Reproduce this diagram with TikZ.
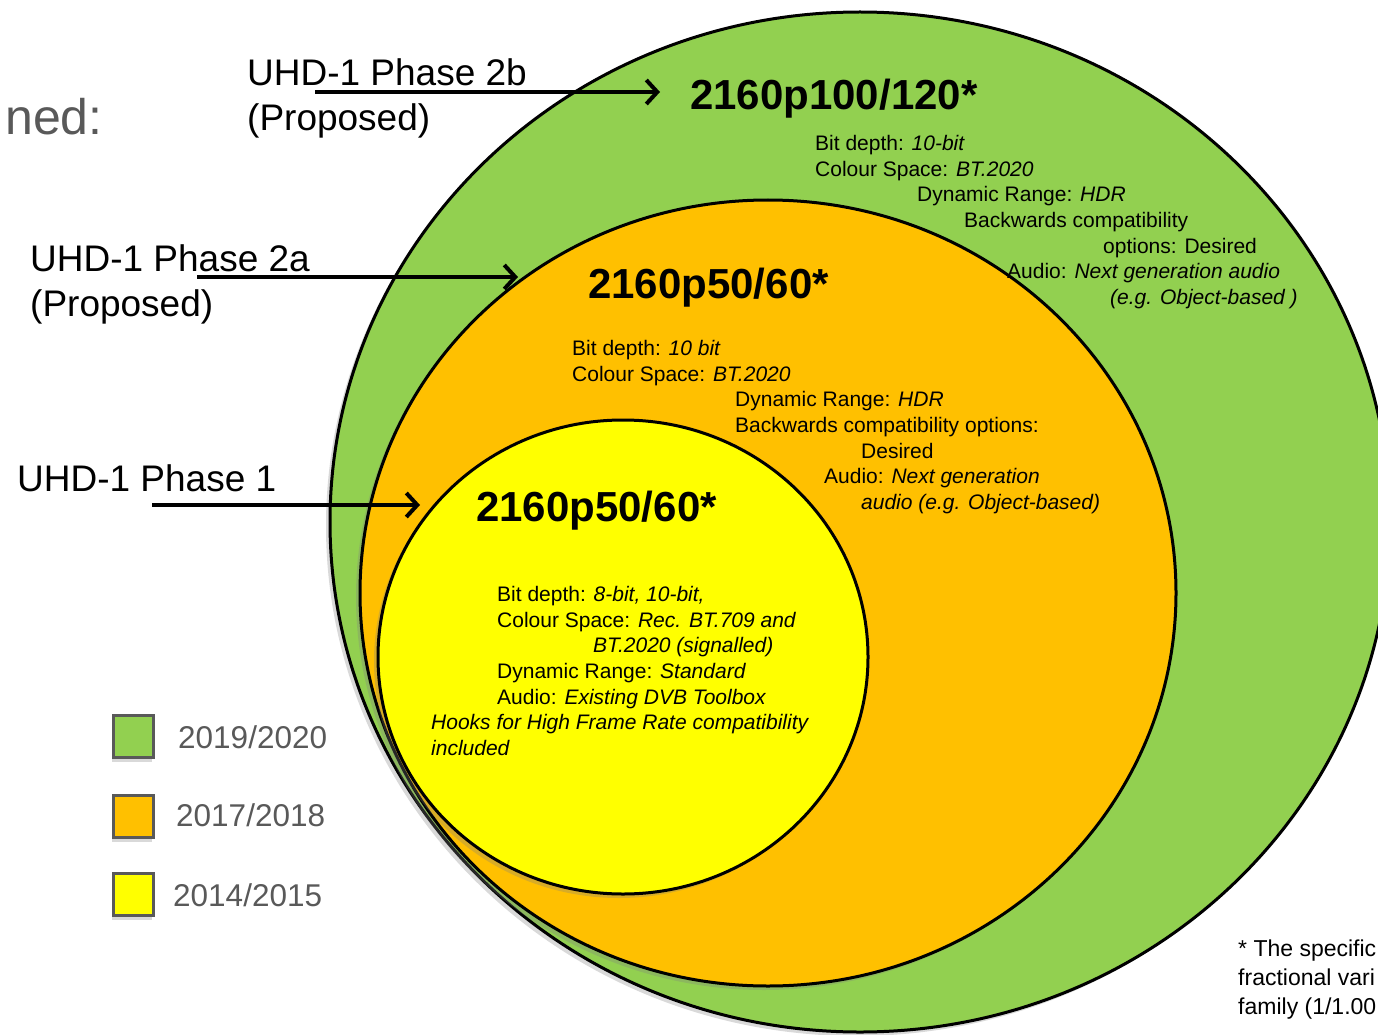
\documentclass[tikz,border=0pt]{standalone}
\usepackage{fontspec}
\setmainfont{Liberation Sans}
\usetikzlibrary{shapes,arrows,arrows.meta,shadows}

\definecolor{phgreen}{RGB}{146,208,80}
\definecolor{phorange}{RGB}{255,192,0}
\definecolor{phyellow}{RGB}{255,255,0}
\definecolor{legendgray}{RGB}{89,89,89}

\begin{document}
\begin{tikzpicture}[x=1pt,y=-1pt]
	\tikzset{align=left,inner sep=0pt}
	
	\tikzset{phase/.style = {shape=ellipse,draw=black,line width=3pt,drop shadow={shadow xshift=-4pt,shadow yshift=-4pt,opacity=0.3}}}
	
	\tikzset{legendbox/.style = {shape=rectangle,draw=legendgray,line width=3pt,minimum width=40pt,minimum height=42pt,drop shadow={shadow xshift=-1pt,shadow yshift=-5pt,opacity=0.3}}}
	
	\tikzset{phaselabel/.style = {anchor=base west,font=\fontsize{37}{45}\selectfont}}
	
	\tikzset{format/.style = {anchor=base west,font=\bfseries\fontsize{42}{50}\selectfont}}
	
	% multi-line blocks: placed by the baseline of their last line
	\tikzset{spec/.style = {anchor=base west,font=\fontsize{21}{25.7}\selectfont}}
	
	\tikzset{yearlabel/.style = {anchor=base west,text=legendgray,font=\fontsize{31.5}{38}\selectfont}}
	
	\useasboundingbox (0,0) rectangle (1378,1035);
	
	% circles
	
	\node[phase,fill=phgreen,minimum width=1060pt,minimum height=1020pt] (ph2b) at (860,522) {};
	
	\node[phase,fill=phorange,minimum width=816pt,minimum height=786pt] (ph2a) at (768,593) {};
	
	\node[phase,fill=phyellow,minimum width=490pt,minimum height=474pt] (ph1) at (623,657) {};
	
	% formats
	
	\node[format] (fmt2b) at (690,110) {2160p100/120*};
	
	\node[format] (fmt2a) at (588,298) {2160p50/60*};
	
	\node[format] (fmt1) at (476,521) {2160p50/60*};
	
	% parameters
	
	\node[spec] (spec2b) at (815,304.5) {Bit depth: \textit{10-bit}\\
		Colour Space: \textit{BT.2020}\\
		\hspace*{102pt}Dynamic Range: \textit{HDR}\\
		\hspace*{149pt}Backwards compatibility\\
		\hspace*{288pt}options: Desired\\
		\hspace*{192pt}Audio: \textit{Next generation audio}\\
		\hspace*{295pt}\textit{(e.g. Object-based )}};
	
	\node[spec] (spec2a) at (572,509.5) {Bit depth: \textit{10 bit}\\
		Colour Space: \textit{BT.2020}\\
		\hspace*{163pt}Dynamic Range: \textit{HDR}\\
		\hspace*{163pt}Backwards compatibility options:\\
		\hspace*{289pt}Desired\\
		\hspace*{252pt}Audio: \textit{Next generation}\\
		\hspace*{289pt}\textit{audio (e.g. Object-based)}};
	
	\node[spec] (spec1) at (431,755.5) {\hspace*{66pt}Bit depth: \textit{8-bit, 10-bit,}\\
		\hspace*{66pt}Colour Space: \textit{Rec. BT.709 and}\\
		\hspace*{162pt}\textit{BT.2020 (signalled)}\\
		\hspace*{66pt}Dynamic Range: \textit{Standard}\\
		\hspace*{66pt}Audio: \textit{Existing DVB Toolbox}\\
		\textit{Hooks for High Frame Rate compatibility}\\
		\textit{included}};
	
	% phases
	
	\node[anchor=base west,text=legendgray,font=\fontsize{50}{60}\selectfont] (defined) at (5,135) {ned:};
	
	\node[phaselabel] (lab2b) at (247,86) {UHD-1 Phase 2b};
	\node[phaselabel] (prop2b) at (247,131) {(Proposed)};
	
	\node[phaselabel] (lab2a) at (30,271) {UHD-1 Phase 2a};
	\node[phaselabel] (prop2a) at (30,316) {(Proposed)};
	
	\node[phaselabel] (lab1) at (17,491) {UHD-1 Phase 1};
	
	\coordinate (from2b) at (315,92);
	\coordinate (to2b) at (660,92);
	\coordinate (from2a) at (197,277);
	\coordinate (to2a) at (518,277);
	\coordinate (from1) at (152,505);
	\coordinate (to1) at (420,505);
	
	%arrows
	
	\begin{scope}[every edge/.style={draw=black,line width=4pt,-{Straight Barb[length=11pt,width=24pt]}}]
	\draw (from2b) edge (to2b);
	\draw (from2a) edge (to2a);
	\draw (from1) edge (to1);
	\end{scope}
	
	% legend
	
	\node[legendbox,fill=phgreen] (key2b) at (133,736) {};
	\node[legendbox,fill=phorange] (key2a) at (133,816) {};
	\node[legendbox,fill=phyellow] (key1) at (133,894) {};
	
	\node[yearlabel] (year2b) at (178,748) {2019/2020};
	\node[yearlabel] (year2a) at (176,826) {2017/2018};
	\node[yearlabel] (year1) at (173,906) {2014/2015};
	
	% footnote
	
	\node[anchor=base west,font=\fontsize{23}{29}\selectfont] (note) at (1238,1014) {* The specific\\
		fractional vari\\
		family (1/1.00};
\end{tikzpicture}
\end{document}
